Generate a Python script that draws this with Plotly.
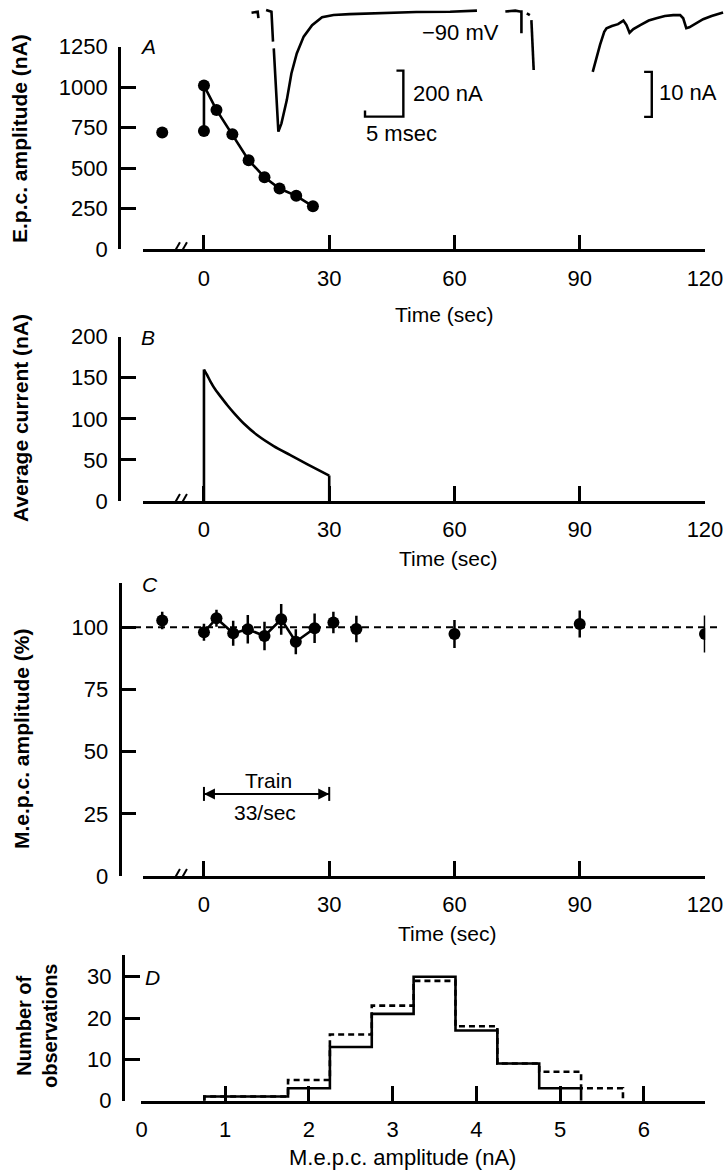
import plotly.graph_objects as go

W, H = 724, 1171
FONT = "Liberation Sans, Arial, Helvetica, sans-serif"
INK = "black"

# ---------------- data ----------------
time_ticks = [0, 30, 60, 90, 120]

# Panel A: e.p.c. amplitude (nA) vs time (sec)
epc_pre_time = [-10]
epc_pre_amp = [720]
epc_time = [0, 0, 3, 6.8, 10.7, 14.5, 18.1, 22.1, 26.1]
epc_amp = [730, 1010, 860, 710, 550, 445, 375, 330, 265]
epc_ticks = [0, 250, 500, 750, 1000, 1250]

# Inset record 1 (time in msec, current in nA) -- low gain
rec1_time = [0.2, 1.0, 1.1, None, 2.1, 2.8, 3.0, None, 3.1, 3.7, 4.1, 4.8, 5.4,
             6.1, 7.0, 8.1, 9.4, 10.9, 13.0, 17.4, 21.7, 26.1, 29.6]
rec1_curr = [-3, 1, -27, None, 9, 1, -129, None, -158, -520, -484, -383, -267,
             -180, -107, -57, -23, -13, -9, -3, 0, 1, 6]
bar200_time = [19.1, 20, 20, 15, 15]
bar200_curr = [-255, -255, -455, -455, -428]

# Inset records 2/3 (time in msec, current in nA) -- high gain
rec2_time = [2.0, 3.3, 3.9, 4.1, 4.1, None, 4.8, 5.2, None, 5.4, 5.7, None,
             13.4, 13.8, 14.35, 14.9, 15.2, 15.9, 16.7, 17.4, 17.8, 18.2, 18.7,
             19.6, 20.7, 21.7, 22.8, 23.9, 24.8, 25.2, 25.6, 26.0, 26.7, 27.8,
             28.9, 30.0, 30.4]
rec2_curr = [0.1, 0.3, 0.1, 0.1, -4.7, None, -0.3, -0.7, None, -1.8, -12.9, None,
             -13.3, -10.5, -7.3, -4.4, -3.6, -3.1, -2.7, -1.9, -2.9, -4.6, -3.8,
             -2.9, -1.9, -1.4, -0.9, -0.7, -0.7, -1.4, -3.6, -3.4, -2.7, -1.6,
             -0.9, -0.3, -0.1]
bar10_time = [20.1, 21.1, 21.1, 20.1]
bar10_curr = [-13.3, -13.3, -23.3, -23.3]

# Panel B: average current (nA)
avg_time = [0, 0.8, 1.6, 2.8, 4.0, 5.6, 7.2, 9.6, 12.8, 16.8, 20.8, 24.8, 30]
avg_curr = [160, 153, 145, 135, 127, 116.5, 107, 94, 80, 66.6, 55.6, 44.7, 31]
avg_edge_time = [0, 0, None, 30, 30]
avg_edge_curr = [0, 160, None, 31, 0]
avg_ticks = [0, 50, 100, 150, 200]

# Panel C: m.e.p.c. amplitude (%)
mepc_time = [-10, 0, 3, 7, 10.5, 14.5, 18.5, 22, 26.5, 31, 36.5, 60, 90, 120]
mepc_amp = [102.7, 98, 103.6, 97.6, 99.2, 96.5, 103.2, 94.2, 99.6, 101.9, 99.3, 97.3, 101.3, 97.3]
mepc_err = [3.5, 3.4, 3.4, 5, 5.7, 5.7, 6.2, 5, 5.9, 4.3, 5.3, 5.6, 5.4, 7.4]
mepc_train_n = 9  # points joined during the train (indices 1..8)
mepc_ref = 100
mepc_ticks = [0, 25, 50, 75, 100]
train_start, train_end, train_level = 0, 30, 33

# Panel D: histogram of m.e.p.c. amplitudes
hist_edges_solid = [0.75, 0.75, 1.25, 1.75, 2.25, 2.75, 3.25, 3.75, 4.25, 4.75, 5.25]
hist_counts_solid = [0, 1, 1, 3, 13, 21, 30, 17, 9, 3, 0]
hist_edges_dash = [0.75, 0.75, 1.25, 1.75, 2.25, 2.75, 3.25, 3.75, 4.25, 4.75, 5.25, 5.75]
hist_counts_dash = [0, 1, 1, 5, 16, 23, 29, 18, 9, 7, 3, 0]
amp_ticks = [0, 1, 2, 3, 4, 5, 6]
count_ticks = [0, 10, 20, 30]


# ---------------- helpers (pixel -> paper) ----------------
def fx(x):
    return x / W


def fy(y):
    return 1 - y / H


LW = 2.6
axis_common = dict(showline=True, linecolor=INK, linewidth=LW, ticks="inside",
                   ticklen=15, tickwidth=LW, tickcolor=INK, showgrid=False,
                   zeroline=False, fixedrange=True, automargin=False,
                   tickfont=dict(family=FONT, size=22, color=INK))

fig = go.Figure()

# Panel A
fig.add_trace(go.Scatter(x=epc_pre_time, y=epc_pre_amp, mode="markers",
                         marker=dict(size=12, color=INK), xaxis="x", yaxis="y"))
fig.add_trace(go.Scatter(x=epc_time, y=epc_amp, mode="lines+markers",
                         line=dict(color=INK, width=LW),
                         marker=dict(size=12, color=INK), xaxis="x", yaxis="y"))
# Insets
fig.add_trace(go.Scatter(x=rec1_time, y=rec1_curr, mode="lines",
                         line=dict(color=INK, width=2.6), xaxis="x5", yaxis="y5"))
fig.add_trace(go.Scatter(x=bar200_time, y=bar200_curr, mode="lines",
                         line=dict(color=INK, width=2.4), xaxis="x5", yaxis="y5"))
fig.add_trace(go.Scatter(x=rec2_time, y=rec2_curr, mode="lines",
                         line=dict(color=INK, width=2.6), xaxis="x6", yaxis="y6"))
fig.add_trace(go.Scatter(x=bar10_time, y=bar10_curr, mode="lines",
                         line=dict(color=INK, width=2.4), xaxis="x6", yaxis="y6"))

# Panel B
fig.add_trace(go.Scatter(x=avg_time, y=avg_curr, mode="lines",
                         line=dict(color=INK, width=LW, shape="spline", smoothing=0.4),
                         xaxis="x2", yaxis="y2"))
fig.add_trace(go.Scatter(x=avg_edge_time, y=avg_edge_curr, mode="lines",
                         line=dict(color=INK, width=LW), xaxis="x2", yaxis="y2"))

# Panel C
fig.add_trace(go.Scatter(x=mepc_time[1:mepc_train_n], y=mepc_amp[1:mepc_train_n],
                         mode="lines", line=dict(color=INK, width=LW),
                         xaxis="x3", yaxis="y3"))
fig.add_trace(go.Scatter(x=mepc_time, y=mepc_amp, mode="markers",
                         marker=dict(size=12, color=INK),
                         error_y=dict(type="data", array=mepc_err, color=INK,
                                      thickness=2.5, width=0),
                         xaxis="x3", yaxis="y3"))
fig.add_trace(go.Scatter(x=[train_start, train_end], y=[train_level, train_level],
                         mode="lines", line=dict(color=INK, width=2),
                         xaxis="x3", yaxis="y3"))

# Panel D
fig.add_trace(go.Scatter(x=hist_edges_dash, y=hist_counts_dash, mode="lines",
                         line=dict(color=INK, width=2.6, shape="hv", dash="6px,4px"),
                         xaxis="x4", yaxis="y4"))
fig.add_trace(go.Scatter(x=hist_edges_solid, y=hist_counts_solid, mode="lines",
                         line=dict(color=INK, width=2.6, shape="hv"),
                         xaxis="x4", yaxis="y4"))

X_RANGE = [-14.6, 120.05]
XDOM = [fx(143), fx(705.2)]

layout = dict(
    width=W, height=H, autosize=False,
    margin=dict(l=0, r=0, t=0, b=0, pad=0, autoexpand=False),
    paper_bgcolor="white", plot_bgcolor="rgba(0,0,0,0)",
    showlegend=False,
    font=dict(family=FONT, size=21, color=INK),
    xaxis=dict(domain=XDOM, range=X_RANGE, anchor="y", tickvals=time_ticks,
               ticklabelstandoff=7, **axis_common),
    yaxis=dict(domain=[fy(249.3), fy(46.7)], range=[0, 1250], anchor="free",
               position=fx(119), tickvals=epc_ticks, ticklabelstandoff=6,
               **axis_common),
    xaxis2=dict(domain=XDOM, range=X_RANGE, anchor="y2", tickvals=time_ticks,
                ticklabelstandoff=7, **axis_common),
    yaxis2=dict(domain=[fy(501), fy(336.7)], range=[0, 200], anchor="free",
                position=fx(119), tickvals=avg_ticks, ticklabelstandoff=6,
                **axis_common),
    xaxis3=dict(domain=XDOM, range=X_RANGE, anchor="y3", tickvals=time_ticks,
                ticklabelstandoff=7, **axis_common),
    yaxis3=dict(domain=[fy(876), fy(583)], range=[0, 117.8], anchor="free",
                position=fx(119.5), tickvals=mepc_ticks, ticklabelstandoff=6,
                **axis_common),
    xaxis4=dict(domain=[fx(141), fx(705)], range=[-0.006, 6.73], anchor="y4",
                tickvals=amp_ticks, ticklabelstandoff=7, **axis_common),
    yaxis4=dict(domain=[fy(1100.7), fy(955)], range=[0, 35.25], anchor="free",
                position=fx(122.7), tickvals=count_ticks, ticklabelstandoff=6,
                **axis_common),
    xaxis5=dict(domain=[fx(250), fx(724)], range=[0, 61.82], anchor="y5",
                visible=False, fixedrange=True),
    yaxis5=dict(domain=[fy(140), fy(0)], range=[-556.5, 52.2], anchor="x5",
                visible=False, fixedrange=True),
    xaxis6=dict(range=[-31.3, 30.52], anchor="y6", overlaying="x5",
                visible=False, fixedrange=True),
    yaxis6=dict(range=[-28.44, 2.667], anchor="x6", overlaying="y5",
                visible=False, fixedrange=True),
)
fig.update_layout(**layout)


def txt(text, x, y, size=21, angle=0, xanchor="center", italic=False, bold=False):
    if bold:
        text = "<b>" + text + "</b>"
    if italic:
        text = "<i>" + text + "</i>"
    fig.add_annotation(text=text, x=fx(x), y=fy(y), xref="paper", yref="paper",
                       showarrow=False, textangle=angle, xanchor=xanchor,
                       yanchor="middle", font=dict(family=FONT, size=size, color=INK))


# axis titles
txt("E.p.c. amplitude (nA)", 20, 139, size=21, angle=-90, bold=True)
txt("Time (sec)", 444, 314)
txt("Average current (nA)", 20, 418, size=21, angle=-90, bold=True)
txt("Time (sec)", 448, 558)
txt("M.e.p.c. amplitude (%)", 21, 739, size=21, angle=-90, bold=True)
txt("Time (sec)", 447, 933)
txt("Number of<br>observations", 37, 1026, size=20, angle=-90, bold=True)
txt("M.e.p.c. amplitude (nA)", 402, 1157, size=22)

# panel letters
txt("A", 148, 47, italic=True)
txt("B", 148, 337, italic=True)
txt("C", 150, 585, italic=True)
txt("D", 152, 977, italic=True)

# inset labels
txt("\u221290 mV", 460, 33, size=22)
txt("200 nA", 411, 94, size=22, xanchor="left")
txt("5 msec", 364, 133, size=22, xanchor="left")
txt("10 nA", 657, 93, size=22, xanchor="left")

# train annotation
txt("Train", 268, 780)
txt("33/sec", 265, 812)
mid = (train_start + train_end) / 2
for head in (train_start, train_end):
    fig.add_annotation(x=head, y=train_level, ax=mid, ay=train_level,
                       xref="x3", yref="y3", axref="x3", ayref="y3",
                       showarrow=True, arrowhead=2, arrowsize=1.1, arrowwidth=2,
                       arrowcolor=INK, text="")
    fig.add_shape(type="line", xref="x3", yref="y3", x0=head, x1=head,
                  ysizemode="pixel", yanchor=train_level, y0=-7, y1=7,
                  line=dict(color=INK, width=2))

# dashed 100 % reference
fig.add_shape(type="line", xref="paper", yref="y3", x0=fx(122), x1=fx(722),
              y0=mepc_ref, y1=mepc_ref, line=dict(color=INK, width=2, dash="7px,5px"))

# axis breaks
for xa, ya in (("x", "y"), ("x2", "y2"), ("x3", "y3")):
    for off in (-4, 3):
        fig.add_shape(type="line", xref=xa, yref=ya, xsizemode="pixel",
                      ysizemode="pixel", xanchor=-5.75, yanchor=0,
                      x0=off - 4, x1=off + 4, y0=-7, y1=7,
                      line=dict(color=INK, width=2))

fig.write_html("out.html")
